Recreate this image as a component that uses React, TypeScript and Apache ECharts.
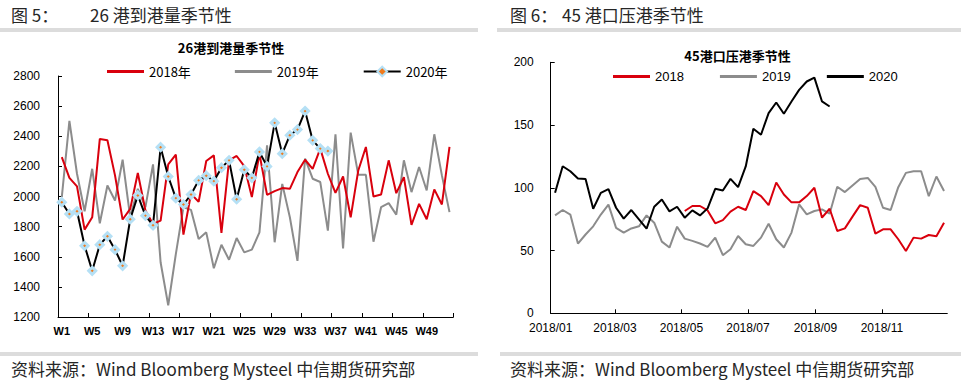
import React, { useEffect, useRef } from 'react';
import * as echarts from 'echarts';

// ---- Left chart: 26港到港量季节性 (weekly) ----
const weeks: string[] = Array.from({ length: 52 }, (_, i) => 'W' + (i + 1));
const arrival2018: number[] = [
  2262, 2124, 2067, 1780, 1862, 2382, 2373, 2140, 1847, 1918,
  2156, 1907, 1818, 1840, 2213, 2278, 1747, 2018, 1964, 2236,
  2273, 1758, 2240, 2269, 2202, 1996, 2284, 2011, 2036, 2056,
  2051, 2162, 2244, 2184, 2318, 2151, 2024, 2133, 1862, 2173,
  2329, 2000, 2013, 2240, 2022, 2129, 1811, 1951, 1849, 2047,
  1947, 2329,
];
const arrival2019: number[] = [
  1996, 2502, 2151, 1902, 2184, 1822, 2073, 1973, 2244, 1862,
  2051, 1929, 2213, 1562, 1278, 1618, 1929, 1911, 1718, 1762,
  1524, 1680, 1580, 1724, 1629, 1647, 1762, 2340, 1696, 2084,
  1862, 1573, 2251, 2118, 2096, 1773, 2413, 1656, 2424, 2144,
  2144, 1700, 1929, 1956, 1880, 2240, 2029, 2196, 2040, 2413,
  2140, 1896,
];
const arrival2020: number[] = [
  1962, 1884, 1902, 1673, 1507, 1680, 1736, 1647, 1540, 1849,
  2007, 1873, 1809, 2327, 2133, 1989, 1947, 2013, 2107, 2138,
  2102, 2191, 2240, 1982, 2178, 2124, 2296, 2200, 2489, 2284,
  2407, 2444, 2567, 2373, 2318, 2302,
];
const leftYTicks = { min: 1200, max: 2800, interval: 200 };

// ---- Right chart: 45港口压港季节性 (weekly, plotted on 2018 dates) ----
const firstWeekDate = '2018-01-05';
const weekCount = 52;
const pad = (n: number) => String(n).padStart(2, '0');
const weekDates: string[] = Array.from({ length: weekCount }, (_, k) => {
  const d = new Date(firstWeekDate + 'T00:00:00Z');
  d.setUTCDate(d.getUTCDate() + 7 * k);
  return d.getUTCFullYear() + '-' + pad(d.getUTCMonth() + 1) + '-' + pad(d.getUTCDate());
});
const port2018Start = 17; // first week index with a 2018 value
const port2018: number[] = [
  81.5, 85.5, 85.5, 82.0, 71.7, 74.3, 81.0, 84.9, 82.3, 97.4,
  93.4, 86.2, 104.2, 94.7, 88.4, 88.4, 93.4, 100.0, 76.2, 83.3,
  65.6, 67.7, 77.0, 86.2, 84.1, 63.5, 66.9, 66.9, 59.0, 49.7,
  60.3, 59.5, 62.4, 61.4, 72.2,
];
const port2019: number[] = [
  78.0, 82.3, 78.7, 55.6, 62.8, 69.3, 78.7, 86.6, 68.1, 64.3,
  67.6, 69.3, 78.0, 72.2, 57.1, 52.4, 69.0, 59.5, 57.7, 55.6,
  52.9, 60.3, 46.3, 51.1, 61.6, 55.0, 53.7, 60.3, 71.4, 59.0,
  52.4, 64.3, 86.8, 78.8, 81.5, 82.8, 79.4, 100.8, 96.6, 101.9,
  107.1, 107.9, 100.8, 84.1, 82.3, 100.5, 111.9, 113.2, 113.2, 93.4,
  109.0, 97.4,
];
const port2020: number[] = [
  96.0, 117.2, 113.2, 107.4, 107.1, 83.3, 96.0, 98.9, 84.1, 75.4,
  82.3, 74.9, 67.5, 84.9, 90.7, 81.2, 84.9, 76.2, 82.0, 78.0,
  83.6, 99.2, 97.9, 107.1, 100.5, 117.0, 147.0, 142.3, 159.5, 168.0,
  159.0, 168.8, 178.0, 184.7, 187.8, 168.8, 164.8,
];
const rightYTicks = { min: 0, max: 200, interval: 50 };

const RED = '#d9000d';
const GRAY = '#8c8c8c';
const BLACK = '#000000';
const CJK = '"Noto Sans CJK SC", "Noto Sans", sans-serif';
const LATIN = '"Liberation Sans", Arial, sans-serif';
const NARROW = '"Liberation Sans Narrow", "Liberation Sans", Arial, sans-serif';
const LINE_ICON = 'path://M0,0 L37,0 L37,3 L0,3 Z';

const headerStyle = { fontSize: 17, fill: '#262626', fontFamily: CJK };
const sourceStyle = { fontSize: 17, fill: '#262626', fontFamily: CJK };

export default function App() {
  const ref = useRef<HTMLDivElement>(null);
  useEffect(() => {
    if (!ref.current) return;
    const chart = echarts.init(ref.current, null, { renderer: 'svg' });
    const fmtMonth = (v: number) => {
      const d = new Date(v);
      return d.getFullYear() + '/' + pad(d.getMonth() + 1);
    };
    const plain = (v: number) => String(v);
    const axisLineStyle = { show: true, lineStyle: { color: '#000', width: 1 } };
    const option: any = {
      animation: false,
      backgroundColor: '#fff',
      textStyle: { fontFamily: LATIN },
      grid: [
        { left: 58, right: 961 - 453.3, top: 76, bottom: 381 - 317, containLabel: false },
        { left: 550.7, right: 961 - 947.3, top: 62.3, bottom: 381 - 313.3, containLabel: false },
      ],
      legend: [
        {
          data: [
            { name: '2018年', icon: LINE_ICON },
            { name: '2019年', icon: LINE_ICON },
            { name: '2020年' },
          ],
          left: 102,
          top: 60,
          itemWidth: 37,
          itemHeight: 12,
          itemGap: 44,
          textStyle: { fontSize: 13, color: '#000', fontFamily: CJK },
        },
        {
          data: [
            { name: '2018', icon: LINE_ICON },
            { name: '2019', icon: LINE_ICON },
            { name: '2020', icon: LINE_ICON },
          ],
          left: 608,
          top: 65,
          itemWidth: 37,
          itemHeight: 12,
          itemGap: 36,
          textStyle: { fontSize: 13, color: '#000', fontFamily: LATIN },
        },
      ],
      xAxis: [
        {
          type: 'category',
          gridIndex: 0,
          data: weeks,
          boundaryGap: true,
          axisLine: axisLineStyle,
          axisTick: { show: true, inside: true, length: 4, interval: 3, lineStyle: { color: '#000' } },
          axisLabel: {
            interval: 3,
            fontSize: 11,
            fontWeight: 'bold',
            color: '#000',
            margin: 8,
            fontFamily: NARROW,
          },
          splitLine: { show: false },
        },
        {
          type: 'time',
          gridIndex: 1,
          min: '2018-01-01',
          max: '2018-12-31',
          splitNumber: 5,
          axisLine: axisLineStyle,
          axisTick: { show: true, inside: true, length: 4, lineStyle: { color: '#000' } },
          minorTick: { show: false },
          axisLabel: { fontSize: 12, color: '#000', margin: 9, formatter: fmtMonth, hideOverlap: false },
          splitLine: { show: false },
        },
      ],
      yAxis: [
        {
          type: 'value',
          gridIndex: 0,
          ...leftYTicks,
          axisLine: axisLineStyle,
          axisTick: { show: true, inside: true, length: 4, lineStyle: { color: '#000' } },
          axisLabel: { fontSize: 12, color: '#000', margin: 18, formatter: plain },
          splitLine: { show: false },
        },
        {
          type: 'value',
          gridIndex: 1,
          ...rightYTicks,
          axisLine: axisLineStyle,
          axisTick: { show: true, inside: true, length: 4, lineStyle: { color: '#000' } },
          axisLabel: { fontSize: 12, color: '#000', margin: 17, formatter: plain },
          splitLine: { show: false },
        },
      ],
      series: [
        {
          name: '2018年', type: 'line', xAxisIndex: 0, yAxisIndex: 0, data: arrival2018,
          symbol: 'none', lineStyle: { color: RED, width: 2 }, itemStyle: { color: RED }, z: 2,
        },
        {
          name: '2019年', type: 'line', xAxisIndex: 0, yAxisIndex: 0, data: arrival2019,
          symbol: 'none', lineStyle: { color: GRAY, width: 2 }, itemStyle: { color: GRAY }, z: 1,
        },
        {
          name: '2020年', type: 'line', xAxisIndex: 0, yAxisIndex: 0, data: arrival2020,
          symbol: 'diamond', symbolSize: 7, showSymbol: true, showAllSymbol: true,
          lineStyle: { color: BLACK, width: 2 },
          itemStyle: { color: '#f07a1c', borderColor: '#b5e0f5', borderWidth: 3 }, z: 3,
        },
        {
          name: '2018', type: 'line', xAxisIndex: 1, yAxisIndex: 1,
          data: port2018.map((v, i) => [weekDates[port2018Start + i], v]),
          symbol: 'none', lineStyle: { color: RED, width: 2 }, itemStyle: { color: RED }, z: 2,
        },
        {
          name: '2019', type: 'line', xAxisIndex: 1, yAxisIndex: 1,
          data: port2019.map((v, i) => [weekDates[i], v]),
          symbol: 'none', lineStyle: { color: GRAY, width: 2 }, itemStyle: { color: GRAY }, z: 1,
        },
        {
          name: '2020', type: 'line', xAxisIndex: 1, yAxisIndex: 1,
          data: port2020.map((v, i) => [weekDates[i], v]),
          symbol: 'none', lineStyle: { color: BLACK, width: 2 }, itemStyle: { color: BLACK }, z: 3,
        },
      ],
      graphic: [
        { type: 'rect', shape: { x: 0, y: 28, width: 478, height: 4 }, style: { fill: '#dcdcdc' }, silent: true },
        { type: 'rect', shape: { x: 497, y: 28, width: 464, height: 4 }, style: { fill: '#dcdcdc' }, silent: true },
        { type: 'rect', shape: { x: 0, y: 352, width: 478, height: 4 }, style: { fill: '#dcdcdc' }, silent: true },
        { type: 'rect', shape: { x: 500, y: 352, width: 461, height: 4 }, style: { fill: '#dcdcdc' }, silent: true },
        { type: 'text', x: 11, y: 14, style: { text: '图 5：', ...headerStyle, textVerticalAlign: 'middle' } },
        { type: 'text', x: 90, y: 14, style: { text: '26 港到港量季节性', ...headerStyle, textVerticalAlign: 'middle' } },
        { type: 'text', x: 510, y: 14, style: { text: '图 6：', ...headerStyle, textVerticalAlign: 'middle' } },
        { type: 'text', x: 562, y: 14, style: { text: '45 港口压港季节性', ...headerStyle, textVerticalAlign: 'middle' } },
        {
          type: 'text', x: 231, y: 47,
          style: { text: '26港到港量季节性', fontSize: 13, fontWeight: 'bold', fill: '#000', fontFamily: CJK, textAlign: 'center', textVerticalAlign: 'middle' },
        },
        {
          type: 'text', x: 737.5, y: 55,
          style: { text: '45港口压港季节性', fontSize: 13, fontWeight: 'bold', fill: '#000', fontFamily: CJK, textAlign: 'center', textVerticalAlign: 'middle' },
        },
        { type: 'text', x: 11, y: 368, style: { text: '资料来源：Wind Bloomberg Mysteel 中信期货研究部', ...sourceStyle, textVerticalAlign: 'middle' } },
        { type: 'text', x: 510, y: 368, style: { text: '资料来源：Wind Bloomberg Mysteel 中信期货研究部', ...sourceStyle, textVerticalAlign: 'middle' } },
      ],
    };
    chart.setOption(option);
    return () => chart.dispose();
  }, []);
  return (
    <div
      ref={ref}
      style={{ position: 'fixed', left: 0, top: 0, width: 961, height: 381, background: '#fff' }}
    />
  );
}
